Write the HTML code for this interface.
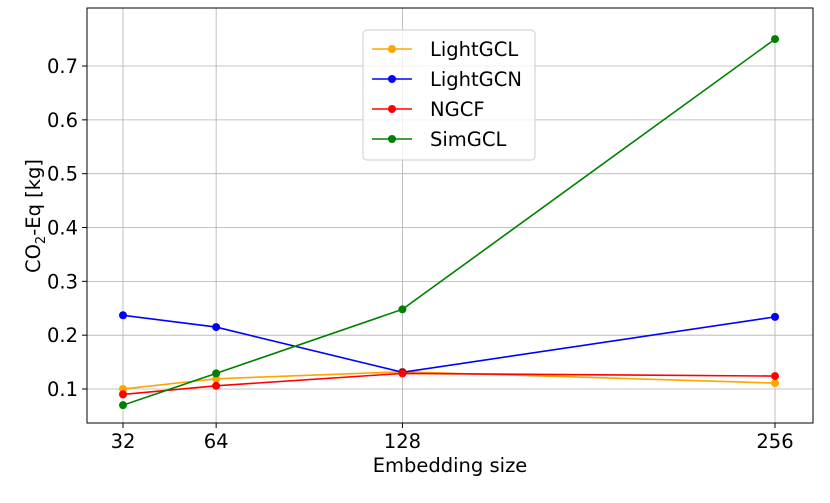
<!DOCTYPE html>
<html><head><meta charset="utf-8"><style>
body{margin:0;background:#fff}
svg{font-family:"DejaVu Sans","Liberation Sans",sans-serif}
</style></head><body>
<svg id="chart" width="830" height="498"></svg>
<script>
const categories=[32,64,128,256];
const seriesNames=["LightGCL","LightGCN","NGCF","SimGCL"];
const seriesColors=["orange","blue","red","green"];
const lightgcl=[0.100,0.119,0.132,0.111];
const lightgcn=[0.237,0.215,0.131,0.234];
const ngcf=[0.090,0.106,0.129,0.124];
const simgcl=[0.070,0.129,0.248,0.750];
const yTicks=[0.1,0.2,0.3,0.4,0.5,0.6,0.7];
const xTicks=[32,64,128,256];
const allSeries=[lightgcl,lightgcn,ngcf,simgcl];
const NS="http://www.w3.org/2000/svg";
const svg=document.getElementById('chart');
const L=87,R=813,T=8,B=423;
const FS=19.5;
const xs=v=>123+(v-32)*(652/224);
const ys=v=>389-(v-0.1)*538.3;
function mk(t,a,p){const e=document.createElementNS(NS,t);for(const k in a)e.setAttribute(k,a[k]);(p||svg).appendChild(e);return e;}
xTicks.forEach(v=>{const l=mk('line',{x1:xs(v),x2:xs(v),y1:T,y2:B,stroke:'#b0b0b0','stroke-width':0.8});


const t=mk('text',{x:xs(v),y:448,'text-anchor':'middle','font-size':FS});t.textContent=v;


mk('line',{x1:xs(v),x2:xs(v),y1:B,y2:B+5,stroke:'#000'});});
yTicks.forEach(v=>{const l=mk('line',{x1:L,x2:R,y1:ys(v),y2:ys(v),stroke:'#b0b0b0','stroke-width':0.8});


const t=mk('text',{x:L-9,y:ys(v)+7,'text-anchor':'end','font-size':FS});t.textContent=v.toFixed(1);


mk('line',{x1:L-5,x2:L,y1:ys(v),y2:ys(v),stroke:'#000'});});
const fr=mk('rect',{x:L,y:T,width:R-L,height:B-T,fill:'none',stroke:'#000','stroke-width':1});


allSeries.forEach((s,i)=>{
 const g=mk('g',{});
 
 
 mk('polyline',{points:s.map((v,j)=>xs(categories[j])+','+ys(v)).join(' '),fill:'none',stroke:seriesColors[i],'stroke-width':1.6},g);
 s.forEach((v,j)=>{const c=mk('circle',{cx:xs(categories[j]),cy:ys(v),r:4,fill:seriesColors[i]},g);
 
 });
});
const xt=mk('text',{x:450,y:472,'text-anchor':'middle','font-size':FS});xt.textContent='Embedding size';


const yt=mk('text',{transform:'translate(40,216) rotate(-90)','text-anchor':'middle','font-size':FS});
yt.innerHTML='CO<tspan font-size="13" dy="5">2</tspan><tspan dy="-5">-Eq [kg]</tspan>';


const lg=mk('g',{});


mk('rect',{x:363,y:30,width:172,height:130,rx:4,fill:'#fff','fill-opacity':0.8,stroke:'#ccc'},lg);
seriesNames.forEach((n,i)=>{const y=49+i*30;
 const e=mk('g',{},lg);
 
 
 mk('line',{x1:372,x2:412,y1:y,y2:y,stroke:seriesColors[i],'stroke-width':1.6},e);
 mk('circle',{cx:392,cy:y,r:4,fill:seriesColors[i]},e);
 const t=mk('text',{x:430,y:y+7,'font-size':FS},e);t.textContent=n;});
</script>
</body></html>
